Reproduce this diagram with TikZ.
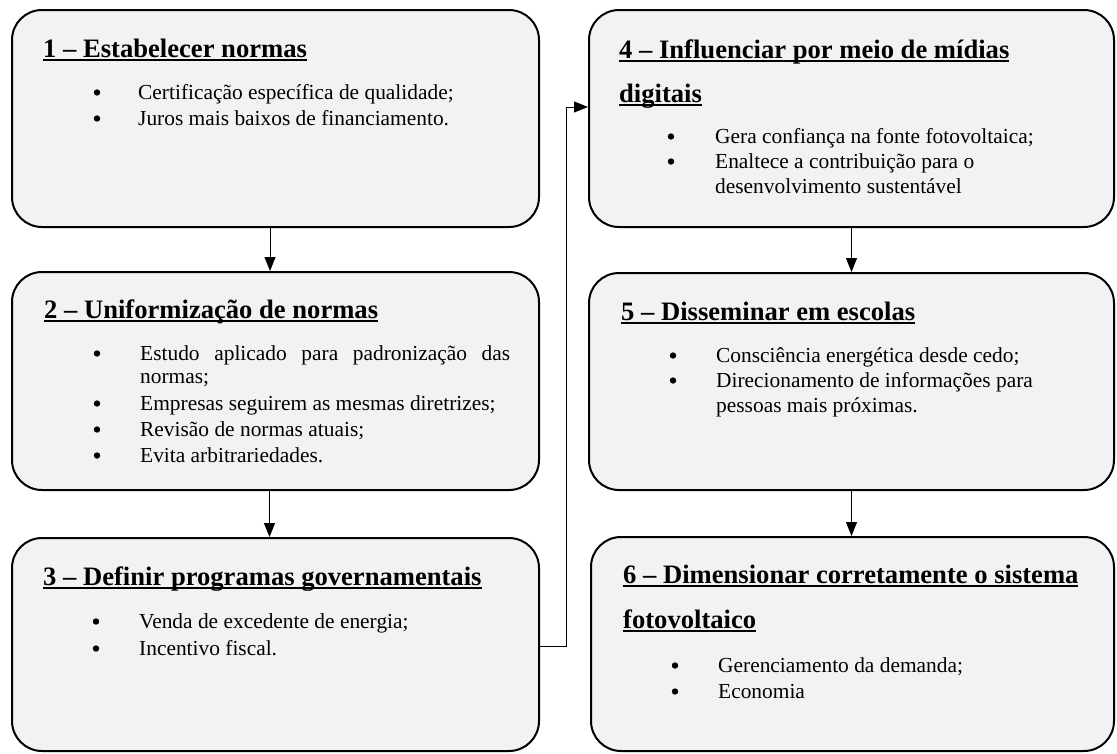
\documentclass[tikz,border=0pt]{standalone}
\usepackage{fontspec}
\setmainfont{Liberation Serif}
\usetikzlibrary{arrows.meta}
\definecolor{boxgray}{HTML}{F2F2F2}
\newcommand\ttlfont{\fontsize{26.6}{30}\selectfont\bfseries}
\newcommand\txtfont{\fontsize{21.4}{25}\selectfont}
\newcommand\ulin[1]{\setbox0\hbox{#1}\rlap{\raisebox{-4.4pt}{\rule{\wd0}{2.2pt}}}\box0}
\tikzset{
  box/.style={draw, line width=2pt, fill=boxgray, rounded corners=30pt, inner sep=0pt},
  ttl/.style={anchor=base west, inner sep=0pt, font=\ttlfont},
  txt/.style={anchor=base west, inner sep=0pt, font=\txtfont},
  bul/.style={circle, fill=black, inner sep=0pt, minimum size=6.4pt, yshift=6.5pt},
  arr/.style={-{Triangle[width=11pt,length=14pt]}, line width=1pt},
}
\begin{document}
\begin{tikzpicture}[x=1pt,y=-1pt]
\useasboundingbox (0,0) rectangle (1117,753);
% boxes
\node[box, minimum width=527pt, minimum height=217pt] (b1) at (275.5,118.5) {};
\node[box, minimum width=527pt, minimum height=218pt] (b2) at (275.5,381) {};
\node[box, minimum width=527pt, minimum height=213pt] (b3) at (275.5,644.5) {};
\node[box, minimum width=525pt, minimum height=217pt] (b4) at (851.5,118.5) {};
\node[box, minimum width=525pt, minimum height=217pt] (b5) at (851.5,381.5) {};
\node[box, minimum width=523pt, minimum height=214pt] (b6) at (852.5,644) {};
% box 1
\node[ttl] (t1) at (43,57) {\ulin{1 – Estabelecer normas}};
\node[bul] (t1b1) at (97,99) {};
\node[txt] (t1l1) at (138,99) {Certificação específica de qualidade;};
\node[bul] (t1b2) at (97,125) {};
\node[txt] (t1l2) at (138,125) {Juros mais baixos de financiamento.};
% box 2
\node[ttl] (t2) at (44,318) {\ulin{2 – Uniformização de normas}};
\node[bul] (t2b1) at (97,360) {};
\node[txt] (t2l1) at (140,360) {\makebox[370pt][s]{Estudo aplicado para padronização das}};
\node[txt] (t2l1b) at (140,383) {normas;};
\node[bul] (t2b2) at (97,410) {};
\node[txt] (t2l2) at (140,410) {Empresas seguirem as mesmas diretrizes;};
\node[bul] (t2b3) at (97,436) {};
\node[txt] (t2l3) at (140,436) {Revisão de normas atuais;};
\node[bul] (t2b4) at (97,462) {};
\node[txt] (t2l4) at (140,462) {Evita arbitrariedades.};
% box 3
\node[ttl] (t3) at (43,585) {\ulin{3 – Definir programas governamentais}};
\node[bul] (t3b1) at (96,628) {};
\node[txt] (t3l1) at (139,628) {Venda de excedente de energia;};
\node[bul] (t3b2) at (96,655) {};
\node[txt] (t3l2) at (139,655) {Incentivo fiscal.};
% box 4
\node[ttl] (t4) at (619,58) {\ulin{4 – Influenciar por meio de mídias}};
\node[ttl] (t4b) at (619,102) {\ulin{digitais}};
\node[bul] (t4b1) at (671,143) {};
\node[txt] (t4l1) at (715,143) {Gera confiança na fonte fotovoltaica;};
\node[bul] (t4b2) at (671,168) {};
\node[txt] (t4l2) at (715,168) {Enaltece a contribuição para o};
\node[txt] (t4l2b) at (715,193) {desenvolvimento sustentável};
% box 5
\node[ttl] (t5) at (621,320) {\ulin{5 – Disseminar em escolas}};
\node[bul] (t5b1) at (673,362) {};
\node[txt] (t5l1) at (716,362) {Consciência energética desde cedo;};
\node[bul] (t5b2) at (673,387) {};
\node[txt] (t5l2) at (716,387) {Direcionamento de informações para};
\node[txt] (t5l2b) at (716,412) {pessoas mais próximas.};
% box 6
\node[ttl] (t6) at (623,583) {\ulin{6 – Dimensionar corretamente o sistema}};
\node[ttl] (t6b) at (623,628) {\ulin{fotovoltaico}};
\node[bul] (t6b1) at (675,672) {};
\node[txt] (t6l1) at (718,672) {Gerenciamento da demanda;};
\node[bul] (t6b2) at (675,698) {};
\node[txt] (t6l2) at (718,698) {Economia};
% connectors
\draw[arr] ([xshift=-5.5pt]b1.south) -- ([xshift=-5.5pt]b2.north);
\draw[arr] ([xshift=-6pt]b2.south) -- ([xshift=-6pt]b3.north);
\draw[arr] (b4.south) -- (b5.north);
\draw[arr] (b5.south) -- ([xshift=-1pt]b6.north);
\draw[arr] ([yshift=-1.5pt]b3.east) -- ++(26,0) |- ([yshift=11.5pt]b4.west);
\end{tikzpicture}
\end{document}
